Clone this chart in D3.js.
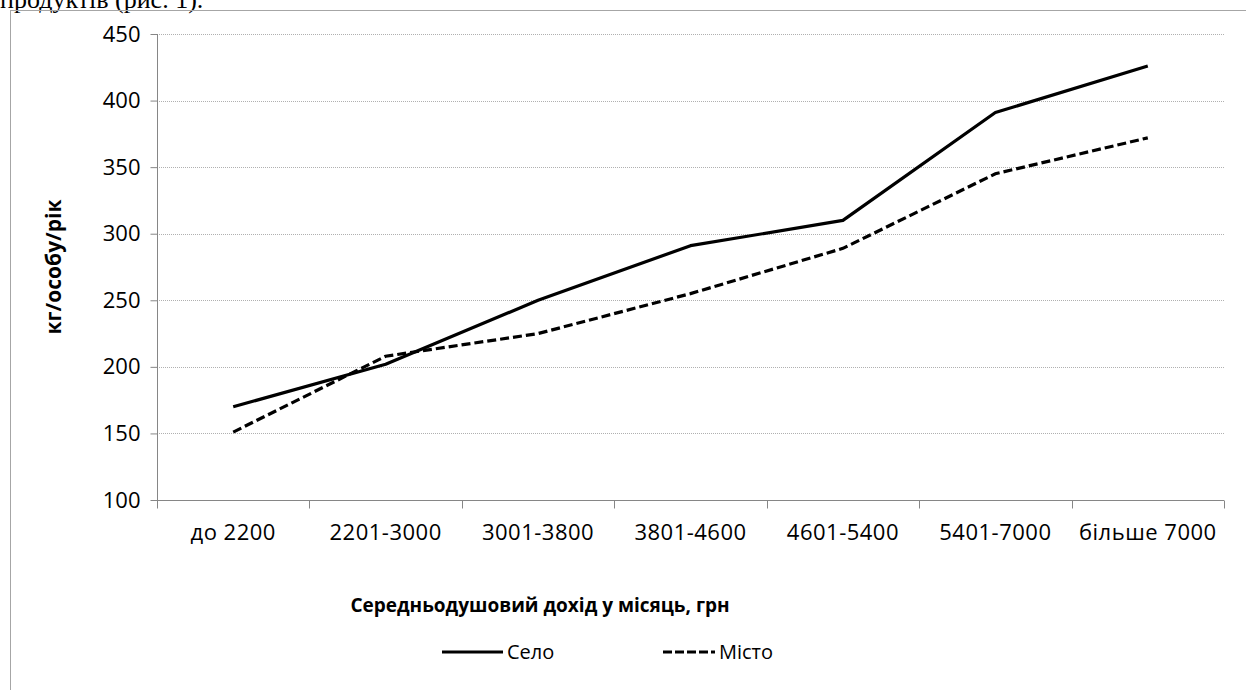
<!DOCTYPE html>
<html>
<head>
<meta charset="utf-8">
<script src="https://cdn.jsdelivr.net/npm/d3@7"></script>
<style>
  body { margin: 0; background: #fff; }
  svg { display: block; }
</style>
</head>
<body>
<div id="chart"></div>
<script>
var categories = ['до 2200', '2201-3000', '3001-3800', '3801-4600', '4601-5400', '5401-7000', 'більше 7000'];
var seloValues = [170, 202, 250, 291, 310, 391, 426];
var mistoValues = [151, 208, 225, 255, 289, 345, 372];
var yTicks = [100, 150, 200, 250, 300, 350, 400, 450];

var width = 1246, height = 690;
var plotLeft = 157, plotRight = 1224, plotTop = 34, plotBottom = 500;
var font = '"Open Sans", sans-serif';

var svg = d3.select('#chart').append('svg')
  .attr('width', width)
  .attr('height', height);

// clipped paragraph text above the chart frame
svg.append('text')
  .attr('x', 0).attr('y', 8)
  .attr('font-family', '"Liberation Serif", serif')
  .attr('font-size', 26)
  .text('продуктів (рис. 1).');

// chart frame
svg.append('rect')
  .attr('x', 10.5).attr('y', 10.5)
  .attr('width', 1300).attr('height', 800)
  .attr('fill', 'none')
  .attr('stroke', '#a6a6a6')
  .attr('stroke-width', 1);

var x = d3.scaleBand().domain(categories).range([plotLeft, plotRight]);
var y = d3.scaleLinear().domain([100, 450]).range([plotBottom, plotTop]);

// gridlines
svg.append('g')
  .selectAll('line')
  .data(yTicks.slice(1))
  .enter().append('line')
  .attr('x1', plotLeft).attr('x2', plotRight)
  .attr('y1', function(d) { return Math.round(y(d)) + 0.5; })
  .attr('y2', function(d) { return Math.round(y(d)) + 0.5; })
  .attr('stroke', '#b0b0b0')
  .attr('stroke-dasharray', '1,1');

// y axis
var yAxis = svg.append('g')
  .attr('transform', 'translate(' + (plotLeft + 0.5) + ',0)')
  .call(d3.axisLeft(y).tickValues(yTicks).tickSize(7).tickPadding(10).tickSizeOuter(0));
yAxis.select('.domain').attr('stroke', '#868686').attr('d', 'M0,' + plotTop + 'V' + (plotBottom + 8));
yAxis.selectAll('.tick line').attr('stroke', '#868686');
yAxis.selectAll('.tick text')
  .attr('font-family', font).attr('font-size', 22).attr('fill', '#000');

// x axis
var xAxis = svg.append('g')
  .attr('transform', 'translate(0,' + (plotBottom + 0.5) + ')')
  .call(d3.axisBottom(x).tickSize(0).tickPadding(24));
xAxis.select('.domain').attr('stroke', '#868686').attr('d', 'M' + plotLeft + ',0H' + plotRight);
xAxis.selectAll('.tick text')
  .attr('font-family', font).attr('font-size', 22).attr('letter-spacing', 0.5).attr('fill', '#000');
xAxis.append('g')
  .selectAll('line')
  .data(categories.concat(['end']))
  .enter().append('line')
  .attr('x1', function(d, i) { return Math.round(plotLeft + i * x.bandwidth()) + 0.5; })
  .attr('x2', function(d, i) { return Math.round(plotLeft + i * x.bandwidth()) + 0.5; })
  .attr('y1', 0).attr('y2', 8)
  .attr('stroke', '#868686');

// lines
var line = d3.line()
  .x(function(d, i) { return x(categories[i]) + x.bandwidth() / 2; })
  .y(function(d) { return y(d); });

svg.append('path')
  .datum(seloValues)
  .attr('d', line)
  .attr('fill', 'none')
  .attr('stroke', '#000')
  .attr('stroke-width', 3.2)
  .attr('stroke-linejoin', 'round');

svg.append('path')
  .datum(mistoValues)
  .attr('d', line)
  .attr('fill', 'none')
  .attr('stroke', '#000')
  .attr('stroke-width', 3.2)
  .attr('stroke-dasharray', '9,4');

// axis titles
svg.append('text')
  .attr('x', 540).attr('y', 612)
  .attr('text-anchor', 'middle')
  .attr('font-family', font).attr('font-size', 19).attr('font-weight', 'bold')
  .text('Середньодушовий дохід у місяць, грн');

svg.append('text')
  .attr('transform', 'translate(61,' + ((plotTop + plotBottom) / 2) + ') rotate(-90)')
  .attr('text-anchor', 'middle')
  .attr('font-family', font).attr('font-size', 21).attr('font-weight', 'bold')
  .text('кг/особу/рік');

// legend
var legend = [
  { name: 'Село', x1: 442, x2: 503, dash: null },
  { name: 'Місто', x1: 663, x2: 715, dash: '9,3' }
];
var lg = svg.append('g');
lg.selectAll('line')
  .data(legend)
  .enter().append('line')
  .attr('x1', function(d) { return d.x1; })
  .attr('x2', function(d) { return d.x2; })
  .attr('y1', 652).attr('y2', 652)
  .attr('stroke', '#000')
  .attr('stroke-width', 3.2)
  .attr('stroke-dasharray', function(d) { return d.dash; });
lg.selectAll('text')
  .data(legend)
  .enter().append('text')
  .attr('x', function(d) { return d.x2 + 4; })
  .attr('y', 659)
  .attr('font-family', font).attr('font-size', 20)
  .text(function(d) { return d.name; });
</script>
</body>
</html>
